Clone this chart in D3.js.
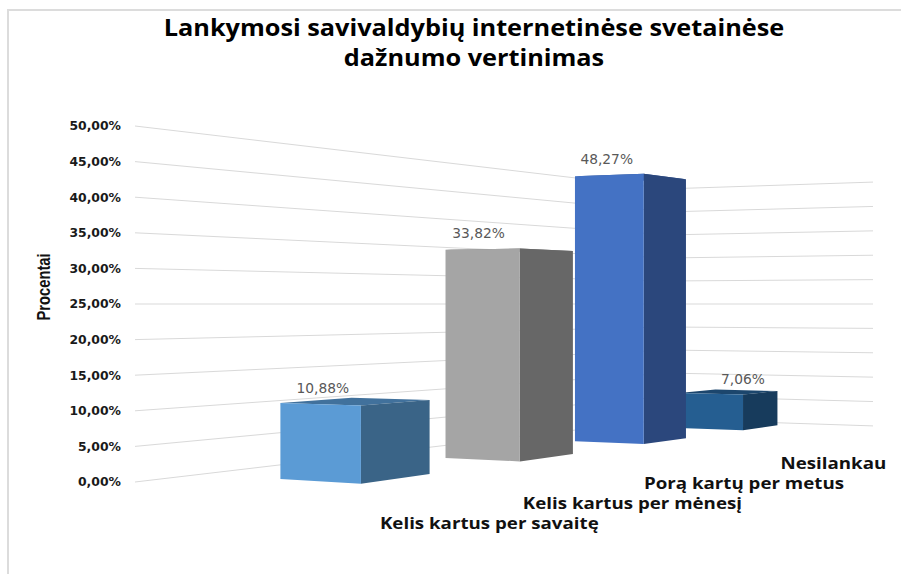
<!DOCTYPE html>
<html>
<head>
<meta charset="utf-8">
<script src="https://cdn.jsdelivr.net/npm/d3@7"></script>
<style>
  html, body { margin: 0; padding: 0; background: #fff; }
  svg { display: block; }
</style>
</head>
<body>
<script>
const categories = ["Kelis kartus per savaitę", "Kelis kartus per mėnesį", "Porą kartų per metus", "Nesilankau"];
const values = [10.88, 33.82, 48.27, 7.06];
const frontColors = ["#5b9bd5", "#a5a5a5", "#4472c4", "#255e91"];
const sideColors = ["#3a6487", "#676767", "#2b477c", "#173b5c"];
const topColors = ["#41719c", "#7c7c7c", "#335593", "#1c466d"];
const titleLines = ["Lankymosi savivaldybių internetinėse svetainėse", "dažnumo vertinimas"];
const axisTitle = "Procentai";

const width = 901, height = 574;

const svg = d3.select("body").append("svg")
  .attr("width", width)
  .attr("height", height);

const y = d3.scaleLinear().domain([0, 50]).range([482, 126]);
// category axis runs along the left wall, 0..1 is the wall, bars spread a bit past it
const band = d3.scaleBand().domain(categories).range([0.004, 1.03]).paddingInner(0.6).paddingOuter(0.3);

// perspective of the floor: c along the left wall, d along the back wall
const persp = { a: 897.7, b: 241.9, x0: 135, p: 0.546, q: -0.086 };
const horizon = y(25);
function project(c, d, v) {
  const w = 1 + persp.p * c + persp.q * d;
  return [
    (persp.a * c + persp.b * d + persp.x0) / w,
    horizon + (y(v) - horizon) / w
  ];
}

const fmt = d => d3.format(".2f")(d).replace(".", ",") + "%";

// frame
svg.append("path")
  .attr("d", d3.line()([[8, height], [8, 10], [width, 10]]))
  .attr("fill", "none")
  .attr("stroke", "#dcdcdc")
  .attr("stroke-width", 2);

// gridlines on the two walls
const grid = svg.append("g").attr("fill", "none").attr("stroke", "#d9d9d9").attr("stroke-width", 1);
y.ticks(10).forEach(t => {
  grid.append("path").attr("d", d3.line()([project(0, 0, t), project(1, 0, t), project(1, 1, t)]));
});

// value axis
const axis = svg.append("g")
  .attr("transform", "translate(121,0)")
  .call(d3.axisLeft(y).ticks(10).tickSize(0).tickPadding(0).tickFormat(fmt));
axis.select(".domain").remove();
axis.selectAll("text")
  .attr("font-family", "'DejaVu Sans'")
  .attr("font-weight", "bold")
  .attr("font-size", 12.4)
  .attr("fill", "#1a1a1a");

// bars, far ones first
const depthLeft = 0.32, depthRight = 0.62;
const polyLine = d3.line().curve(d3.curveLinearClosed);
const order = d3.range(categories.length).reverse();
const bars = svg.append("g");
order.forEach(i => {
  const c0 = band(categories[i]), c1 = c0 + band.bandwidth(), v = values[i];
  const g = bars.append("g");
  g.append("path")
    .attr("fill", topColors[i])
    .attr("d", polyLine([project(c0, depthLeft, v), project(c0, depthRight, v), project(c1, depthRight, v), project(c1, depthLeft, v)]));
  g.append("path")
    .attr("fill", sideColors[i])
    .attr("d", polyLine([project(c0, depthRight, 0), project(c1, depthRight, 0), project(c1, depthRight, v), project(c0, depthRight, v)]));
  g.append("path")
    .attr("fill", frontColors[i])
    .attr("d", polyLine([project(c0, depthLeft, 0), project(c0, depthRight, 0), project(c0, depthRight, v), project(c0, depthLeft, v)]));
});

// data labels sit over the visible face of each bar
const labelDepth = [0.48, 0.455, 0.46, 0.62];
svg.append("g").selectAll("text")
  .data(values)
  .enter().append("text")
  .attr("x", (d, i) => project(band(categories[i]), labelDepth[i], d)[0])
  .attr("y", (d, i) => project(band(categories[i]), labelDepth[i], d)[1] - 11)
  .attr("text-anchor", "middle")
  .attr("font-family", "'DejaVu Sans'")
  .attr("font-size", 13.8)
  .attr("fill", "#595959")
  .text(fmt);

// category labels, wider than the font so they get stretched
const labelNudge = [-5, 3, 5, 2];
svg.append("g").selectAll("text")
  .data(categories)
  .enter().append("text")
  .attr("transform", (d, i) => {
    const p = project(band(d) + band.bandwidth() / 2, 0.954, -6.3);
    return `translate(${p[0]},${p[1] + 5 + labelNudge[i]}) scale(1.17,1)`;
  })
  .attr("text-anchor", "middle")
  .attr("font-family", "'Open Sans'")
  .attr("font-weight", "bold")
  .attr("font-size", 16)
  .attr("fill", "#111")
  .text(d => d);

// title
svg.append("g").selectAll("text")
  .data(titleLines)
  .enter().append("text")
  .attr("transform", (d, i) => `translate(474,${36 + i * 30}) scale(1.1,1)`)
  .attr("text-anchor", "middle")
  .attr("font-family", "'Open Sans'")
  .attr("font-weight", "bold")
  .attr("font-size", 23)
  .attr("fill", "#000")
  .text(d => d);

svg.append("text")
  .attr("transform", "translate(50,287) rotate(-90) scale(0.82,1)")
  .attr("text-anchor", "middle")
  .attr("font-family", "'Liberation Sans'")
  .attr("font-weight", "bold")
  .attr("font-size", 18)
  .attr("fill", "#111")
  .text(axisTitle);
</script>
</body>
</html>
